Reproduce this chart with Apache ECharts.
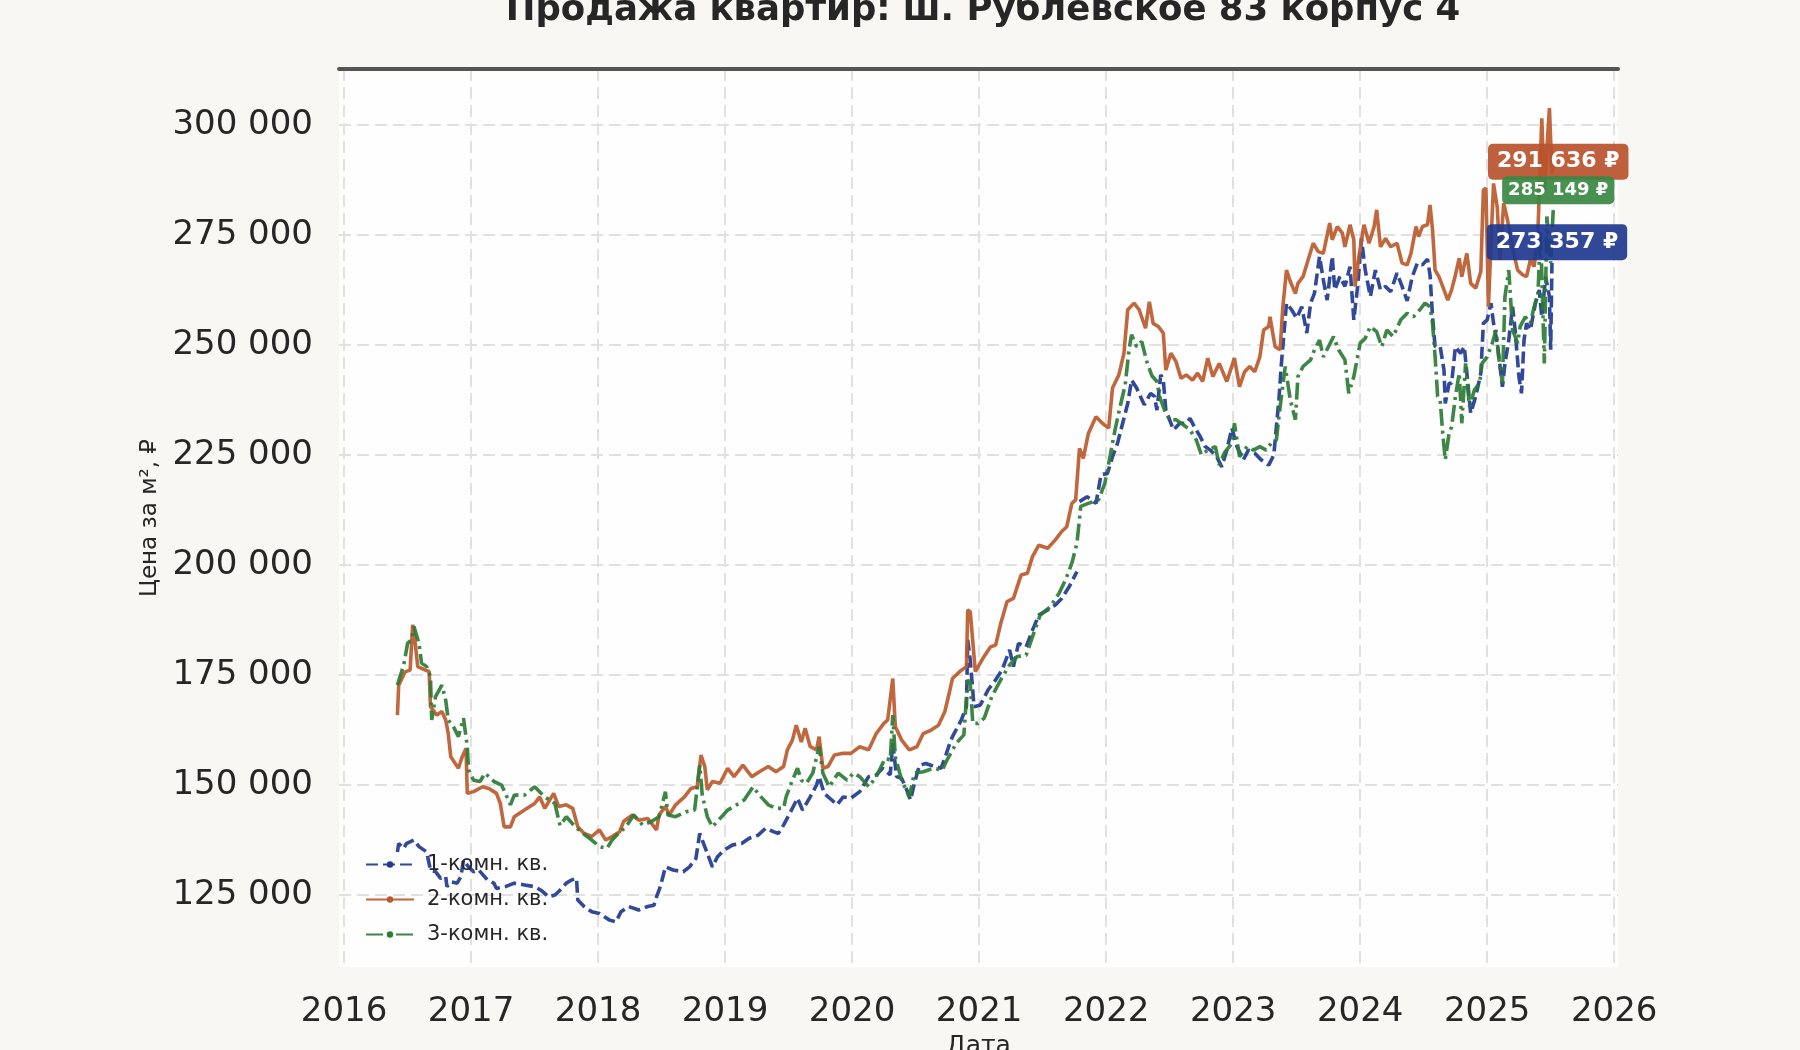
<!DOCTYPE html>
<html>
<head>
<meta charset="utf-8">
<title>Продажа квартир</title>
<script src="https://cdn.jsdelivr.net/npm/echarts@6/dist/echarts.min.js"></script>
<style>
  html, body { margin: 0; padding: 0; background: #f8f7f3; }
  #chart { width: 1800px; height: 1050px; }
</style>
</head>
<body>
<div id="chart"></div>
<script>
// 1-комн.
var years1 = [2016.42, 2016.43, 2016.47, 2016.49, 2016.55, 2016.59, 2016.65, 2016.68, 2016.72, 2016.76, 2016.80, 2016.81, 2016.84, 2016.89, 2016.92, 2016.94, 2016.98,
  2017.02, 2017.06, 2017.13, 2017.18, 2017.20, 2017.27, 2017.34, 2017.42, 2017.50, 2017.55, 2017.61, 2017.66, 2017.70, 2017.75, 2017.79, 2017.83, 2017.84, 2017.89, 2017.95,
  2018.01, 2018.09, 2018.14, 2018.18, 2018.24, 2018.32, 2018.39, 2018.44, 2018.46, 2018.49, 2018.53, 2018.59, 2018.67, 2018.72, 2018.77, 2018.80, 2018.85, 2018.90, 2018.94, 2018.99,
  2019.06, 2019.13, 2019.19, 2019.26, 2019.32, 2019.38, 2019.42, 2019.46, 2019.51, 2019.57, 2019.61, 2019.67, 2019.72, 2019.74, 2019.78, 2019.84, 2019.88, 2019.93, 2019.99,
  2020.06, 2020.13, 2020.19, 2020.24, 2020.30, 2020.32, 2020.35, 2020.39, 2020.43, 2020.46, 2020.49, 2020.53, 2020.58, 2020.62, 2020.66, 2020.70, 2020.73, 2020.76, 2020.79, 2020.86, 2020.90, 2020.91, 2020.93, 2020.96,
  2021.01, 2021.07, 2021.13, 2021.18, 2021.24, 2021.27, 2021.31, 2021.37, 2021.42, 2021.47, 2021.54, 2021.60, 2021.65, 2021.71, 2021.77, 2021.78, 2021.79, 2021.85, 2021.92, 2021.96,
  2022.01, 2022.05, 2022.09, 2022.13, 2022.17, 2022.20, 2022.24, 2022.30, 2022.35, 2022.38, 2022.40, 2022.43, 2022.45, 2022.47, 2022.53, 2022.58, 2022.63, 2022.66, 2022.70, 2022.74, 2022.78, 2022.82, 2022.87, 2022.91, 2022.95, 2022.99,
  2023.03, 2023.08, 2023.12, 2023.17, 2023.22, 2023.28, 2023.32, 2023.36, 2023.38, 2023.42, 2023.46, 2023.50, 2023.54, 2023.58, 2023.61, 2023.64, 2023.68, 2023.71, 2023.74, 2023.78, 2023.80, 2023.84, 2023.88, 2023.92, 2023.95, 2023.98,
  2024.01, 2024.04, 2024.08, 2024.12, 2024.16, 2024.20, 2024.24, 2024.29, 2024.33, 2024.37, 2024.41, 2024.45, 2024.49, 2024.53, 2024.55, 2024.57, 2024.59, 2024.63, 2024.66, 2024.67, 2024.70, 2024.72, 2024.75, 2024.79, 2024.82, 2024.84, 2024.87, 2024.91, 2024.95, 2024.97,
  2025.00, 2025.03, 2025.05, 2025.08, 2025.12, 2025.14, 2025.17, 2025.20, 2025.22, 2025.25, 2025.27, 2025.29, 2025.31, 2025.34, 2025.38, 2025.41, 2025.43, 2025.46, 2025.49, 2025.50, 2025.51];
var price1 = [134800, 136700, 135600, 136700, 137500, 136000, 134800, 130700, 130300, 128800, 129200, 126900, 128000, 127700, 129200, 132900, 131400,
  130300, 130700, 128400, 127700, 126500, 126900, 127700, 127300, 126900, 126100, 124600, 125000, 126100, 127700, 128400, 128800, 123900, 122400, 121200,
  120800, 119300, 118900, 121200, 122400, 121600, 122400, 122700, 124600, 126900, 131400, 130700, 130300, 131400, 133300, 139000, 135200, 131400, 133700, 135200,
  136400, 136700, 137900, 138600, 140200, 139400, 139000, 140900, 143600, 147000, 144300, 147300, 150000, 151900, 148100, 146600, 145500, 147300, 147000,
  148500, 151900, 152300, 153800, 152300, 159500, 151900, 151500, 148900, 146600, 150400, 154500, 154900, 154500, 154200, 153800, 156100, 158700, 161000, 164800, 167800, 183000, 178400, 167800,
  168200, 171600, 173900, 176100, 180700, 176900, 182200, 181400, 185200, 188600, 189800, 190900, 192400, 195100, 198500, null, 214400, 215500, 214000, 220500,
  220800, 224600, 227700, 232200, 236700, 242000, 240200, 236400, 239000, 238300, 235200, 243200, 242000, 235200, 230700, 232200, 232200, 233300, 231100, 229200, 226900, 226100, 224600, 222300, 226100, 231100,
  226900, 223900, 226100, 225400, 223900, 222700, 225000, 237500, 245800, 259500, 258000, 256100, 258700, 252700, 259500, 261700, 270100, 264800, 260200, 270100, 262500, 265500, 263300, 267800, 255700, 263300,
  274200, 267000, 261000, 267000, 262500, 263300, 262100, 266300, 263300, 260000, 265500, 268600, 268200, 269500, 265900, 256400, 249600, 249600, 244300, 236700, 241300, 241300, 249600, 248100, 249600, 243600, 234500, 238300, 243600, 254900,
  255700, 259500, 254900, 250400, 240500, 245800, 251100, 258700, 253400, 242800, 239000, 251100, 254900, 253400, 259500, 262500, 256400, 265500, 261000, 248900, 268600];

// 2-комн.
var years2 = [2016.42, 2016.43, 2016.48, 2016.52, 2016.54, 2016.56, 2016.58, 2016.64, 2016.67, 2016.68, 2016.73, 2016.77, 2016.80, 2016.82, 2016.84, 2016.90, 2016.93, 2016.96, 2016.97,
  2017.02, 2017.09, 2017.14, 2017.20, 2017.23, 2017.26, 2017.31, 2017.34, 2017.42, 2017.50, 2017.54, 2017.58, 2017.65, 2017.69, 2017.75, 2017.80, 2017.84, 2017.89, 2017.95,
  2018.01, 2018.06, 2018.11, 2018.17, 2018.20, 2018.27, 2018.32, 2018.39, 2018.46, 2018.48, 2018.53, 2018.56, 2018.61, 2018.68, 2018.73, 2018.78, 2018.81, 2018.84, 2018.86, 2018.90, 2018.96,
  2019.02, 2019.07, 2019.14, 2019.21, 2019.27, 2019.34, 2019.40, 2019.46, 2019.49, 2019.53, 2019.56, 2019.60, 2019.63, 2019.67, 2019.72, 2019.74, 2019.77, 2019.81, 2019.86, 2019.93, 2019.99,
  2020.06, 2020.13, 2020.19, 2020.25, 2020.28, 2020.32, 2020.34, 2020.39, 2020.45, 2020.51, 2020.56, 2020.61, 2020.68, 2020.73, 2020.77, 2020.79, 2020.86, 2020.90, 2020.91, 2020.93, 2020.97,
  2021.03, 2021.09, 2021.13, 2021.17, 2021.22, 2021.27, 2021.33, 2021.38, 2021.42, 2021.47, 2021.54, 2021.60, 2021.65, 2021.69, 2021.73, 2021.76, 2021.79, 2021.82, 2021.86, 2021.92, 2021.97,
  2022.02, 2022.05, 2022.10, 2022.14, 2022.17, 2022.22, 2022.26, 2022.31, 2022.34, 2022.37, 2022.41, 2022.45, 2022.47, 2022.51, 2022.55, 2022.59, 2022.63, 2022.68, 2022.72, 2022.76, 2022.80, 2022.84, 2022.89, 2022.95,
  2023.01, 2023.05, 2023.09, 2023.13, 2023.17, 2023.21, 2023.24, 2023.28, 2023.29, 2023.33, 2023.37, 2023.39, 2023.42, 2023.45, 2023.49, 2023.51, 2023.55, 2023.59, 2023.63, 2023.67, 2023.71, 2023.76, 2023.78, 2023.82, 2023.86, 2023.88, 2023.92, 2023.95, 2023.96, 2023.99,
  2024.03, 2024.07, 2024.11, 2024.13, 2024.16, 2024.20, 2024.24, 2024.29, 2024.33, 2024.37, 2024.40, 2024.44, 2024.46, 2024.49, 2024.53, 2024.55, 2024.57, 2024.59, 2024.62, 2024.66, 2024.69, 2024.72, 2024.75, 2024.78, 2024.80, 2024.84, 2024.87, 2024.91, 2024.95, 2024.97, 2024.99,
  2025.01, 2025.03, 2025.05, 2025.08, 2025.10, 2025.13, 2025.16, 2025.20, 2025.24, 2025.28, 2025.31, 2025.34, 2025.37, 2025.40, 2025.43, 2025.45, 2025.49, 2025.51, 2025.52];
var price2 = [165900, 172700, 175700, 176100, 186400, 182200, 176900, 176100, 175800, 167800, 165900, 166700, 164800, 161700, 156400, 153800, 156400, 158300, 148100,
  148500, 149600, 149200, 148100, 145800, 140500, 140500, 142800, 144300, 145800, 147300, 144700, 148100, 145100, 145500, 144700, 140500, 139000, 138300,
  139800, 137500, 138300, 139400, 141700, 143200, 142000, 142400, 139800, 143200, 145100, 143200, 145500, 147300, 149200, 149600, 156800, 154200, 148900, 150800, 150400,
  153800, 151900, 154500, 151900, 153000, 154200, 153000, 154200, 158000, 160200, 163600, 159800, 162900, 158700, 158000, 161000, 153800, 154200, 156800, 157200, 157200,
  158700, 158000, 161700, 164000, 164800, 174200, 163300, 160200, 158000, 158700, 161700, 162300, 163600, 166700, 171600, 174200, 176100, 176900, 189800, 189400, 175800,
  178800, 181400, 181800, 186700, 191700, 192400, 197700, 198100, 201900, 204500, 203800, 205700, 207600, 208700, 214000, 214800, 226500, 224200, 229900, 233700, 232200,
  231100, 240200, 243200, 248100, 258000, 259500, 258000, 253800, 259800, 254900, 254200, 252700, 244300, 248100, 246200, 242400, 243200, 242000, 243600, 241700, 247000, 242800, 245800, 241700,
  247000, 240500, 243900, 245100, 243900, 247300, 253400, 254200, 256400, 249600, 248900, 258300, 267000, 264400, 261700, 264000, 265500, 269300, 273100, 271200, 270800, 277700, 273900, 276900, 275400, 272300, 277300, 273900, 263300, 270100,
  277300, 273100, 276900, 280700, 272300, 274200, 272300, 273100, 268600, 268200, 270800, 276900, 274600, 276900, 277300, 281800, 276100, 267000, 265500, 262500, 260200, 262500, 265900, 269700, 265500, 270800, 264000, 262900, 266700, 285200, 285600,
  258700, 273100, 286700, 281100, 269300, 282200, 278400, 271900, 267000, 265900, 265500, 269300, 267800, 276100, 301500, 285200, 303800, 289000, 291300];

// 3-комн.
var years3 = [2016.42, 2016.47, 2016.50, 2016.53, 2016.55, 2016.59, 2016.61, 2016.65, 2016.68, 2016.69, 2016.72, 2016.77, 2016.80, 2016.82, 2016.86, 2016.90, 2016.94, 2016.97, 2016.98,
  2017.02, 2017.07, 2017.11, 2017.18, 2017.24, 2017.31, 2017.34, 2017.42, 2017.50, 2017.58, 2017.66, 2017.70, 2017.75, 2017.82, 2017.88, 2017.95,
  2018.01, 2018.07, 2018.11, 2018.16, 2018.22, 2018.28, 2018.35, 2018.42, 2018.48, 2018.53, 2018.55, 2018.61, 2018.69, 2018.76, 2018.80, 2018.82, 2018.86, 2018.90, 2018.96,
  2019.02, 2019.09, 2019.15, 2019.22, 2019.27, 2019.34, 2019.40, 2019.46, 2019.48, 2019.53, 2019.57, 2019.60, 2019.64, 2019.69, 2019.74, 2019.77, 2019.82, 2019.89, 2019.96,
  2020.01, 2020.06, 2020.13, 2020.19, 2020.26, 2020.30, 2020.32, 2020.34, 2020.39, 2020.45, 2020.49, 2020.56, 2020.64, 2020.71, 2020.74, 2020.82, 2020.88, 2020.91, 2020.93, 2020.95, 2020.99,
  2021.04, 2021.10, 2021.17, 2021.24, 2021.30, 2021.37, 2021.43, 2021.48, 2021.56, 2021.63, 2021.68, 2021.73, 2021.77, 2021.80, 2021.86, 2021.94, 2021.99,
  2022.03, 2022.07, 2022.11, 2022.15, 2022.18, 2022.20, 2022.24, 2022.28, 2022.32, 2022.36, 2022.40, 2022.42, 2022.46, 2022.50, 2022.55, 2022.61, 2022.66, 2022.71, 2022.75, 2022.80, 2022.86, 2022.89, 2022.93, 2022.99,
  2023.01, 2023.05, 2023.11, 2023.16, 2023.21, 2023.26, 2023.30, 2023.34, 2023.37, 2023.41, 2023.45, 2023.49, 2023.51, 2023.55, 2023.61, 2023.64, 2023.68, 2023.71, 2023.75, 2023.79, 2023.83, 2023.88, 2023.91, 2023.95, 2023.97,
  2024.00, 2024.04, 2024.08, 2024.13, 2024.17, 2024.21, 2024.26, 2024.32, 2024.37, 2024.42, 2024.47, 2024.51, 2024.55, 2024.57, 2024.59, 2024.61, 2024.63, 2024.65, 2024.67, 2024.70, 2024.72, 2024.75, 2024.78, 2024.80, 2024.83, 2024.86, 2024.90, 2024.94, 2024.96,
  2025.00, 2025.04, 2025.07, 2025.09, 2025.12, 2025.14, 2025.17, 2025.20, 2025.24, 2025.26, 2025.30, 2025.34, 2025.37, 2025.40, 2025.42, 2025.45, 2025.47, 2025.50, 2025.52];
var price3 = [172700, 177300, 182200, 183000, 186000, 182200, 177700, 176900, 174600, 164800, 170100, 172700, 169300, 164800, 163300, 161000, 165200, 158800, 153400,
  151100, 150800, 152700, 150800, 150000, 145500, 147700, 147700, 149600, 147300, 145800, 140800, 142800, 140500, 139000, 137500,
  136000, 135600, 137500, 139000, 140500, 143200, 140900, 141700, 142800, 148500, 143200, 142800, 143900, 144300, 154500, 147700, 142800, 140500, 142400,
  144300, 145500, 146600, 149600, 147700, 145500, 144700, 144700, 147300, 151100, 153800, 151100, 150400, 152700, 158700, 152700, 149600, 152700, 151100,
  152700, 151900, 149600, 151900, 156100, 155700, 165900, 156400, 151100, 147300, 152700, 153000, 153800, 153400, 155300, 159500, 161400, 173900, 173100, 164000, 164000,
  165200, 170100, 173900, 177300, 179200, 179500, 184500, 188600, 190500, 193600, 196600, 200400, 204900, 213300, 214000, 214800, 218600,
  224600, 230700, 236000, 240900, 248900, 252300, 249600, 250800, 246200, 243000, 241700, 238300, 235200, 233000, 233000, 231800, 230700, 228400, 225000, 226100, 226900, 222700, 225400, 227700,
  232200, 224600, 226900, 226100, 226900, 226100, 227700, 228400, 236000, 245100, 237500, 233000, 242800, 245100, 246600, 248900, 251100, 247300, 249600, 251900, 248900, 246600, 239000, 242800, 245800,
  250400, 251500, 254200, 253000, 249600, 253400, 251900, 255700, 257200, 256400, 258000, 259500, 258700, 254900, 247300, 238300, 237500, 229900, 223900, 229900, 231400, 238300, 243600, 232200, 245800, 236000, 239800, 241300, 245800,
  247300, 250400, 253400, 247300, 241300, 261000, 267000, 253400, 250400, 254200, 256400, 254900, 258700, 261700, 276100, 245800, 279200, 268600, 280700];

var seriesNames = ['1-комн. кв.', '2-комн. кв.', '3-комн. кв.'];
var lastPrices = [273357, 291636, 285149];
var yearTicks = [2016, 2017, 2018, 2019, 2020, 2021, 2022, 2023, 2024, 2025, 2026];
var priceTicks = [125000, 150000, 175000, 200000, 225000, 250000, 275000, 300000];

var lineColors = ['#1f3a8f', '#bb5a2e', '#2c7c35'];
var boxColors = ['rgba(31,56,143,0.92)', 'rgba(185,83,44,0.92)', 'rgba(56,136,66,0.92)'];
var dashes = [[12, 5], 'solid', [17, 5, 3, 5]];
var boxFont = [22, 22, 18];
var boxPad = [[7, 9], [7, 9], [5, 6]];

function fmt(v) {
  return String(Math.round(v)).replace(/\B(?=(\d{3})+(?!\d))/g, ' ');
}

function pairs(xs, ys) {
  return xs.map(function (x, i) { return [x, ys[i]]; });
}

var allYears = [years1, years2, years3];
var allPrices = [price1, price2, price3];
var FONT = 'DejaVu Sans';

var dom = document.getElementById('chart');
var myChart = echarts.init(dom, null, { renderer: 'canvas' });

var series = seriesNames.map(function (name, k) {
  var xs = allYears[k];
  return {
    name: name,
    type: 'line',
    xAxisIndex: 0,
    data: pairs(xs, allPrices[k]),
    showSymbol: false,
    symbol: 'circle',
    symbolSize: 4,
    connectNulls: false,
    color: lineColors[k],
    lineStyle: { width: 3.6, type: dashes[k], color: lineColors[k], opacity: 0.92 },
    emphasis: { disabled: true },
    markPoint: {
      silent: true,
      symbol: 'circle',
      symbolSize: 0,
      data: [{ coord: [xs[xs.length - 1], lastPrices[k]], value: lastPrices[k] }],
      label: {
        show: true,
        position: 'inside',
        offset: [5, 0],
        formatter: function (p) { return fmt(p.value) + ' ₽'; },
        color: '#ffffff',
        fontFamily: FONT,
        fontWeight: 'bold',
        fontSize: boxFont[k],
        backgroundColor: boxColors[k],
        borderRadius: 5,
        padding: boxPad[k]
      }
    }
  };
});

var option = {
  backgroundColor: '#f8f7f3',
  animation: false,
  title: {
    text: 'Продажа квартир: ш. Рублевское 83 корпус 4',
    left: 978,
    textAlign: 'center',
    top: -12,
    textStyle: { fontFamily: FONT, fontSize: 35.5, fontWeight: 'bold', color: '#262626' }
  },
  legend: {
    data: seriesNames,
    orient: 'vertical',
    left: 360,
    top: 849,
    itemWidth: 48,
    itemHeight: 8,
    itemGap: 14,
    textStyle: { fontFamily: FONT, fontSize: 21, color: '#262626', padding: [0, 0, 0, 8] }
  },
  grid: {
    left: 339,
    right: 182,
    top: 69,
    bottom: 83,
    outerBoundsMode: 'none',
    containLabel: false,
    show: true,
    backgroundColor: '#fefefe',
    borderWidth: 0
  },
  xAxis: [{
    type: 'value',
    min: 2015.96,
    max: 2026.03,
    name: 'Дата',
    nameLocation: 'middle',
    nameGap: 66,
    nameTextStyle: { fontFamily: FONT, fontSize: 25, color: '#262626' },
    axisLine: { show: false },
    axisTick: { show: false, customValues: yearTicks },
    axisLabel: {
      customValues: yearTicks,
      margin: 28,
      fontFamily: FONT,
      fontSize: 34,
      color: '#262626',
      formatter: function (v) { return String(Math.round(v)); }
    },
    splitLine: { show: true, lineStyle: { color: '#e1e1e1', width: 2, type: [12, 6] } }
  }, {
    type: 'value',
    position: 'top',
    min: 2015.96,
    max: 2026.03,
    axisLine: { show: true, onZero: false, lineStyle: { color: '#555555', width: 4 } },
    axisTick: { show: false },
    axisLabel: { show: false },
    splitLine: { show: false }
  }],
  yAxis: {
    type: 'value',
    min: 108650,
    max: 312700,
    name: 'Цена за м², ₽',
    nameLocation: 'middle',
    nameGap: 174,
    nameRotate: 90,
    nameTextStyle: { fontFamily: FONT, fontSize: 23, color: '#262626' },
    axisLine: { show: false },
    axisTick: { show: false, customValues: priceTicks },
    axisLabel: {
      customValues: priceTicks,
      margin: 26,
      padding: [6, 0, 0, 0],
      fontFamily: FONT,
      fontSize: 34,
      color: '#262626',
      formatter: function (v) { return fmt(v); }
    },
    splitLine: { show: true, lineStyle: { color: '#e1e1e1', width: 2, type: [12, 6] } }
  },
  series: series
};

if (option && typeof option === 'object') {
  myChart.setOption(option);
}

window.addEventListener('resize', myChart.resize);
</script>
</body>
</html>
